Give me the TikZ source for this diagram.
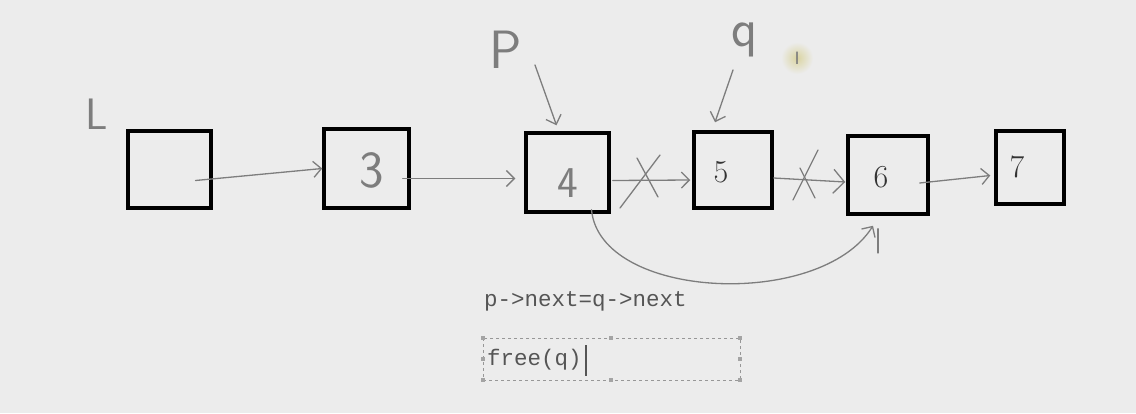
\documentclass[tikz,border=0pt]{standalone}
\usepackage{fontspec}
\newfontfamily\monof{Liberation Mono}
\newfontfamily\curfont{DejaVu Sans}
\usetikzlibrary{calc,arrows.meta}
\definecolor{bg}{RGB}{236,236,236}
\definecolor{pen}{RGB}{125,125,125}
\definecolor{txt}{RGB}{85,85,85}
\definecolor{hl}{RGB}{218,212,160}
\begin{document}
\begin{tikzpicture}[x=1pt,y=-1pt,
  box/.style={draw=black,line width=3.5pt,inner sep=0pt,fill=bg},
  hand/.style={draw=pen,line width=1.3pt,line cap=round,line join=round},
  harrow/.style={hand,-{Straight Barb[length=8pt,width=16pt]}},
  bigarrow/.style={hand,-{Straight Barb[length=11pt,width=24pt]}},
  handtxt/.style={text=pen,font=\sffamily\fontsize{52}{52}\selectfont,inner sep=0pt},
  numtxt/.style={text=black!80,font=\fontsize{32}{32}\selectfont,inner sep=0pt},
  code/.style={text=txt,font=\monof\fontsize{22.5}{26}\selectfont,inner sep=0pt,anchor=west},
  handle/.style={fill=pen!70,draw=none,minimum size=4pt,inner sep=0pt}]
\fill[bg] (0,0) rectangle (1136,413);
\useasboundingbox (0,0) rectangle (1136,413);

% list boxes
\node[box,minimum width=83pt,minimum height=77pt] (bL) at (169.5,169.5) {};
\node[box,minimum width=85pt,minimum height=79pt] (b3) at (366.5,168.5) {};
\node[box,minimum width=83pt,minimum height=79pt] (b4) at (567.5,172.5) {};
\node[box,minimum width=78pt,minimum height=76pt] (b5) at (733,170) {};
\node[box,minimum width=80pt,minimum height=78pt] (b6) at (888,175) {};
\node[box,minimum width=68pt,minimum height=73pt] (b7) at (1030,167.5) {};

% contents
\node[handtxt] (t3) at (372,170) {3};
\node[handtxt,font=\sffamily\fontsize{44}{44}\selectfont] (t4) at (568,183) {4};
\node[numtxt] (t5) at (721,172) {5};
\node[numtxt] (t6) at (881,177) {6};
\node[numtxt] (t7) at (1017,167) {7};

% hand labels
\node[handtxt,font=\sffamily\fontsize{44}{44}\selectfont] (lL) at (97,114) {L};
\node[handtxt,font=\sffamily\fontsize{54}{54}\selectfont] (lP) at (506,50) {P};
\node[handtxt,font=\sffamily\fontsize{54}{54}\selectfont] (lq) at (745,40) {q};
\node[circle,minimum size=32pt,inner sep=0pt,inner color=hl,outer color=bg] (cur) at (797,58) {};
\node[text=pen,font=\curfont\fontsize{17}{17}\selectfont,inner sep=0pt] (curI) at (cur.center) {I};

% pointer arrows
\coordinate (pS) at (535,65);
\coordinate (qS) at (733,70);
\draw[harrow] (pS) -- ($(b4.north)+(-11,-6)$);
\draw[harrow] (qS) -- ($(b5.north)+(-18,-8)$);

% list links
\draw[harrow] ($(bL.center)+(26,11)$) -- (b3.west);
\draw[harrow] ($(b3.east)+(-8,10)$) -- ($(b4.west)+(-9,6)$);
\draw[harrow] ($(b4.east)+(2,8)$) -- ($(b5.west)+(-2,10)$);
\draw[bigarrow] ($(b5.east)+(0,8)$) -- ($(b6.west)+(-1,7)$);
\draw[harrow] ($(b6.east)+(-10,8)$) -- ($(b7.west)+(-4,8)$);

% crosses
\coordinate (x1) at (640,180);
\draw[hand] ($(x1)+(-20,28)$) -- ($(x1)+(20,-25)$);
\draw[hand] ($(x1)+(-3,-22)$) -- ($(x1)+(18,17)$);
\coordinate (x2) at (806,178);
\draw[hand] ($(x2)+(-13,22)$) -- ($(x2)+(12,-28)$);
\draw[hand] ($(x2)+(-6,-10)$) -- ($(x2)+(9,20)$);

% bypass link p->next = q->next
\draw[harrow] ($(b4.south)+(24,-4)$) .. controls (600,300) and (820,310) .. ($(b6.south)+(-15,10)$);
\coordinate (tk) at (878,253);
\draw[hand] (tk) -- ($(b6.south)+(-10,13)$);

% code
\node[code] (c1) at (484,301) {p->next=q->next};
\node[code] (c2) at (487,360) {free(q)};
\draw[txt,line width=1.2pt] ($(c2.east)+(4,-15)$) -- ($(c2.east)+(4,16)$);
\coordinate (fb1) at (483,338);
\coordinate (fb2) at (740,380);
\draw[pen!80,dashed,line width=0.8pt] (fb1) rectangle (fb2);
\foreach \hx/\hy [count=\i] in {483/338,611/338,740/338,483/359,740/359,483/380,611/380,740/380}
  \node[handle] (h\i) at (\hx,\hy) {};
\end{tikzpicture}
\end{document}
